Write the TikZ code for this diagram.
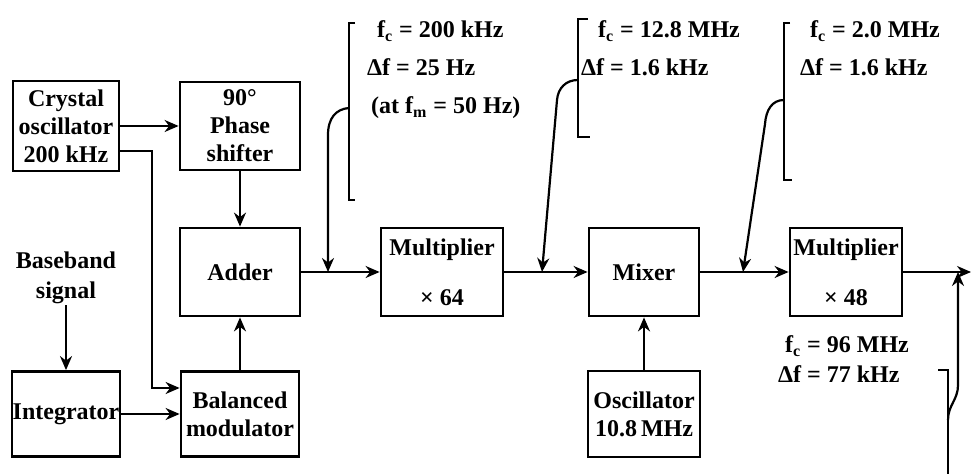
\documentclass[tikz,border=0pt]{standalone}
\usepackage{fontspec}
\setmainfont{Liberation Serif}
\usetikzlibrary{positioning, arrows.meta}

\begin{document}
\begin{tikzpicture}[->,>={Stealth[length=7pt,width=6pt]},line width=1.1pt,x=0.5pt,y=-0.5pt,node distance=101pt,
    block/.style={draw,line width=1.4pt,minimum width=56pt,minimum height=44pt,inner sep=0pt,align=center,font=\fontsize{12}{14}\selectfont\bfseries},
    note/.style={inner sep=0pt,align=left,anchor=north west,font=\fontsize{12}{19}\selectfont\bfseries}]
    \useasboundingbox (0,0) rectangle (972,474);

    % main chain
    \node[block,minimum width=60pt] (adder) at (240,272) {Adder};
    \node[block,minimum width=61pt,right of=adder] (mult64) {Multiplier\\[11pt]× 64};
    \node[block,minimum width=55pt,right of=mult64] (mixer) {Mixer};
    \node[block,right of=mixer] (mult48) {Multiplier\\[11pt]× 48};

    \node[block,minimum width=60pt,node distance=73pt,above of=adder] (phase) {90°\\Phase\\shifter};
    \node[block,minimum width=53pt,minimum height=45pt,node distance=87pt,left of=phase] (crystal) {Crystal\\oscillator\\200 kHz};
    \node[block,minimum width=59pt,minimum height=42.5pt,node distance=71pt,below of=adder] (balmod) {Balanced\\modulator};
    \node[block,minimum width=54pt,minimum height=42.5pt,node distance=87pt,left of=balmod] (integ) {Integrator};
    \node[block,minimum height=43pt,node distance=71pt,below of=mixer] (osc) {Oscillator\\10.8\,MHz};
    \node[inner sep=0pt,align=center,font=\fontsize{12}{15}\selectfont\bfseries,node distance=68pt,above of=integ] (baseband) {Baseband\\signal};

    \coordinate (tap) at (152,388);
    \coordinate (j1) at (328,272);
    \coordinate (j2) at (542,272);
    \coordinate (j3) at (743,272);
    \coordinate (j4) at (958,272);
    \coordinate (out) at (971,272);
    \coordinate (k1) at (349,108);
    \coordinate (k2) at (578,80);
    \coordinate (k3) at (784,100);
    \coordinate (k4) at (948,420);

    \draw (crystal) -- (phase);
    \draw ([yshift=-12.5pt]crystal.east) -| (tap) -- ([yshift=13pt]balmod.west);
    \draw (phase) -- (adder);
    \draw (balmod) -- (adder);
    \draw (integ) -- (balmod);
    \draw (baseband) -- (integ);
    \draw (adder) -- (mult64);
    \draw (mult64) -- (mixer);
    \draw (mixer) -- (mult48);
    \draw (mult48) -- (out);
    \draw (osc) -- (mixer);

    % brackets with the carrier and deviation values
    \draw[-] (355,23) -- (349,23) -- (349,200) -- (355,200);
    \draw[-] (588,19) -- (578,19) -- (578,137) -- (590,137);
    \draw[-] (790,23) -- (784,23) -- (784,180) -- (792,180);
    \draw[-] (938,370) -- (948,370) -- (948,474);

    \draw (k1) .. controls (336,109) and (328,118) .. (328,135) -- (j1);
    \draw (k2) .. controls (566,80) and (558,88) .. (557,100) -- (j2);
    \draw (k3) .. controls (772,100) and (766,110) .. (765,124) -- (j3);
    \draw (k4) .. controls (948,405) and (958,400) .. (958,385) -- (j4);

    \node[note] (lab1) at (366,20) {\hspace{5pt}f\textsubscript{c} = 200 kHz\\Δf = 25 Hz\\\hspace{2pt}(at f\textsubscript{m} = 50 Hz)};
    \node[note] (lab2) at (580,20) {\hspace{8.5pt}f\textsubscript{c} = 12.8 MHz\\Δf = 1.6 kHz};
    \node[note] (lab3) at (799,20) {\hspace{5pt}f\textsubscript{c} = 2.0 MHz\\Δf = 1.6 kHz};
    \node[note,font=\fontsize{12}{15}\selectfont\bfseries] (lab4) at (777,335) {\hspace{3.5pt}f\textsubscript{c} = 96 MHz\\Δf = 77 kHz};
\end{tikzpicture}
\end{document}
